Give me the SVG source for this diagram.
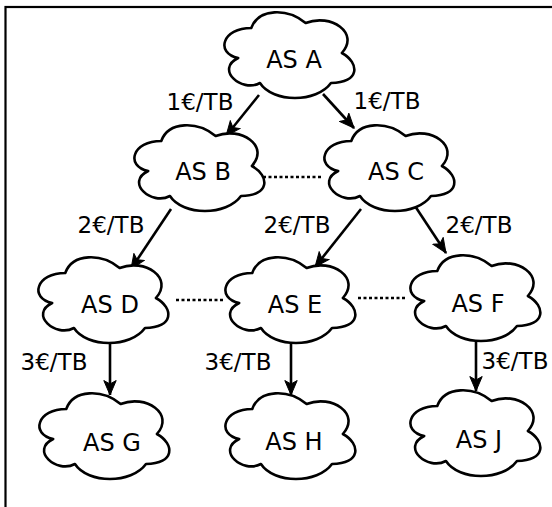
<svg xmlns="http://www.w3.org/2000/svg" xmlns:xlink="http://www.w3.org/1999/xlink" width="552" height="507" viewBox="0 0 552 507">
  <style>
    .cloud { fill: #ffffff; stroke: #000000; stroke-width: 2.6; stroke-linejoin: round; }
    .name { font-family: Verdana, "DejaVu Sans", sans-serif; font-size: 24px; fill: #000000; text-anchor: middle; }
    .price { font-family: Verdana, "DejaVu Sans", sans-serif; font-size: 23px; fill: #000000; text-anchor: middle; }
    .link { fill: none; stroke: #000000; stroke-width: 2.6; }
    .peer { fill: none; stroke: #000000; stroke-width: 2.6; stroke-dasharray: 3 2.5; }
  </style>
  <defs>
    <!-- cloud outline in a 145 x 100 box -->
    <path id="cloud" d="M 36.25,25 C 7.25,25 0,50 23.2,55 C 0,66 26.1,90 44.95,80 C 58,100 101.5,100 116,80 C 145,80 145,60 126.875,50 C 145,30 116,10 90.625,20 C 72.5,5 43.5,5 36.25,25 Z"/>
    <marker id="arrow" markerUnits="userSpaceOnUse" viewBox="0 0 16 14" refX="15" refY="7" markerWidth="16" markerHeight="14" orient="auto">
      <path d="M 15,7 L 0.5,0.8 L 4,7 L 0.5,13.2 Z" fill="#000000" stroke="#000000" stroke-width="1" stroke-linejoin="miter"/>
    </marker>
  </defs>

  <rect x="5.5" y="7" width="580" height="540" fill="none" stroke="#000000" stroke-width="2.2"/>

  <g id="connectors">
    <path class="link" d="M 259,95 L 226,136" marker-end="url(#arrow)"/>
    <path class="link" d="M 323,94 L 354,128" marker-end="url(#arrow)"/>
    <path class="link" d="M 171,209 L 131,269" marker-end="url(#arrow)"/>
    <path class="link" d="M 361,209 L 315,267" marker-end="url(#arrow)"/>
    <path class="link" d="M 413,203 L 446,253" marker-end="url(#arrow)"/>
    <path class="link" d="M 110,343 L 110,395" marker-end="url(#arrow)"/>
    <path class="link" d="M 291,343 L 291,395" marker-end="url(#arrow)"/>
    <path class="link" d="M 476,340 L 476,391" marker-end="url(#arrow)"/>
    <path class="peer" d="M 263,177 L 322,177"/>
    <path class="peer" d="M 176,300 L 224,300"/>
    <path class="peer" d="M 358,298 L 405,298"/>
    <text class="price" x="200" y="110">1€/TB</text>
    <text class="price" x="387" y="109">1€/TB</text>
    <text class="price" x="111" y="233">2€/TB</text>
    <text class="price" x="297" y="233">2€/TB</text>
    <text class="price" x="479" y="233">2€/TB</text>
    <text class="price" x="54" y="370">3€/TB</text>
    <text class="price" x="238" y="370">3€/TB</text>
    <text class="price" x="515" y="369">3€/TB</text>
  </g>

  <g id="as-a"><use xlink:href="#cloud" class="cloud" x="215" y="3"/><text class="name" x="294" y="68">AS A</text></g>
  <g id="as-b"><use xlink:href="#cloud" class="cloud" x="125" y="116"/><text class="name" x="203" y="180">AS B</text></g>
  <g id="as-c"><use xlink:href="#cloud" class="cloud" x="315" y="116"/><text class="name" x="396" y="180">AS C</text></g>
  <g id="as-d"><use xlink:href="#cloud" class="cloud" x="29" y="248"/><text class="name" x="110" y="313">AS D</text></g>
  <g id="as-e"><use xlink:href="#cloud" class="cloud" x="216" y="248"/><text class="name" x="295" y="313">AS E</text></g>
  <g id="as-f"><use xlink:href="#cloud" class="cloud" x="401" y="246"/><text class="name" x="478" y="312">AS F</text></g>
  <g id="as-g"><use xlink:href="#cloud" class="cloud" x="30" y="384"/><text class="name" x="112" y="451">AS G</text></g>
  <g id="as-h"><use xlink:href="#cloud" class="cloud" x="216" y="384"/><text class="name" x="294" y="450">AS H</text></g>
  <g id="as-j"><use xlink:href="#cloud" class="cloud" x="401" y="381"/><text class="name" x="479" y="448">AS J</text></g>
</svg>
